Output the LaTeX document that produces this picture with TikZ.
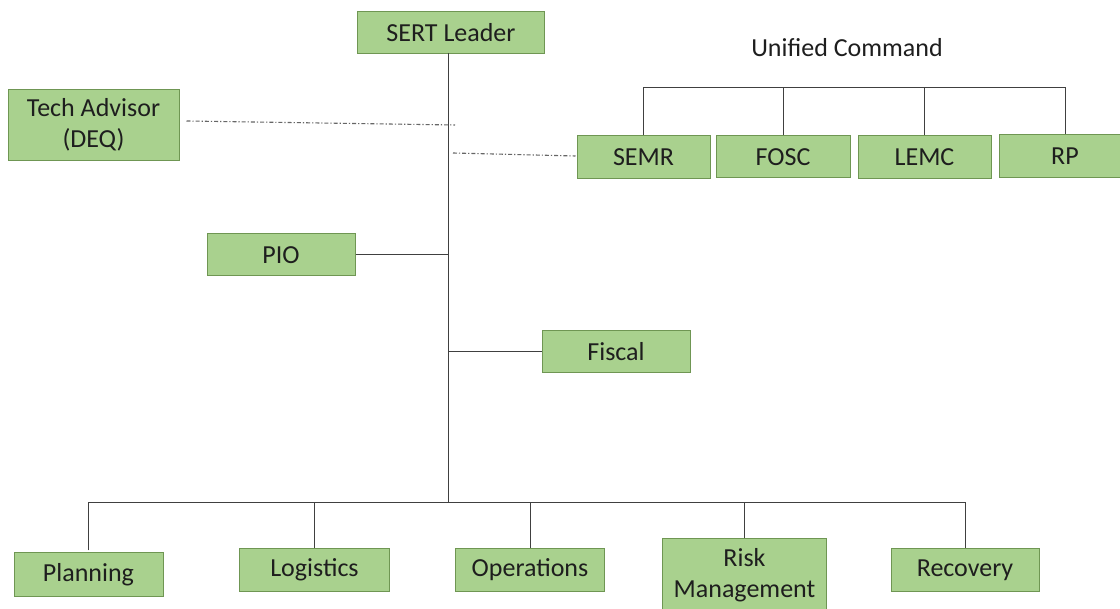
\documentclass[tikz,border=0pt]{standalone}
\usepackage{fontspec}
\setmainfont{Carlito}
\definecolor{boxfill}{HTML}{A9D18E}
\definecolor{boxline}{HTML}{6F9653}
\definecolor{linegray}{HTML}{404040}
\definecolor{txt}{HTML}{1E1E1E}
\tikzset{
  orgbox/.style={draw=boxline, line width=1pt, fill=boxfill, text=txt,
    inner sep=0pt, align=center, font=\fontsize{26}{31}\selectfont},
  conn/.style={draw=linegray, line width=1pt},
  dotconn/.style={draw=linegray!80, line width=1.1pt, dash pattern=on 4pt off 2pt on 1.2pt off 2pt}
}
\begin{document}
\begin{tikzpicture}[x=1pt,y=-1pt]
\useasboundingbox (0,0) rectangle (1120,609);
\fill[white] (0,0) rectangle (1120,609);
% nodes
\node[orgbox, minimum width=187pt, minimum height=42pt] (sert) at (451,32.5) {SERT Leader};
\node[orgbox, minimum width=171pt, minimum height=71pt] (tech) at (93.5,125) {Tech Advisor\\(DEQ)};
\node[text=txt, font=\fontsize{26}{31}\selectfont] (uc) at (847,48) {Unified Command};
\node[orgbox, minimum width=133pt, minimum height=43pt] (semr) at (643.5,157.5) {SEMR};
\node[orgbox, minimum width=134pt, minimum height=42pt] (fosc) at (783,157) {FOSC};
\node[orgbox, minimum width=133pt, minimum height=43pt] (lemc) at (924.5,157.5) {LEMC};
\node[orgbox, minimum width=132pt, minimum height=43pt] (rp) at (1065,156.5) {RP};
\node[orgbox, minimum width=148pt, minimum height=42pt] (pio) at (281,255) {PIO};
\node[orgbox, minimum width=148pt, minimum height=42pt] (fiscal) at (616,352) {Fiscal};
\node[orgbox, minimum width=149pt, minimum height=43pt] (planning) at (88.5,574.5) {Planning};
\node[orgbox, minimum width=150pt, minimum height=43pt] (logistics) at (314.5,570) {Logistics};
\node[orgbox, minimum width=149pt, minimum height=43pt] (operations) at (530,570) {Operations};
\node[orgbox, minimum width=164pt, minimum height=72pt] (risk) at (744.5,575) {Risk\\Management};
\node[orgbox, minimum width=148pt, minimum height=43pt] (recovery) at (965,570) {Recovery};
% coordinates
\coordinate (spinetop) at (448,53);
\coordinate (spinebot) at (448,503);
\coordinate (bar) at (448,503);
\coordinate (ucbar) at (641,88);
\coordinate (techend) at (455,125);
\coordinate (semrdash) at (453,153);
% spine
\draw[conn] (spinetop) -- (spinebot);
\draw[conn] (pio.east) -- (pio.east -| spinetop);
\draw[conn] (fiscal.west) -- (fiscal.west -| spinetop);
% bottom bar
\draw[conn] (planning.north -| planning.center) ++(0,-2) coordinate (pl) -- (pl |- bar) -- (recovery.north |- bar) -- (recovery.north);
\draw[conn] (logistics.north) -- (logistics.north |- bar);
\draw[conn] (operations.north) -- (operations.north |- bar);
\draw[conn] (risk.north) -- (risk.north |- bar);
% unified command bar
\draw[conn] (semr.north) -- (semr.north |- ucbar) -- (rp.north |- ucbar) -- (rp.north);
\draw[conn] (fosc.north) -- (fosc.north |- ucbar);
\draw[conn] (lemc.north) -- (lemc.north |- ucbar);
% dash-dot links
\draw[dotconn] ([shift={(7,-4)}]tech.east) -- (techend);
\draw[dotconn] (semrdash) -- ([shift={(-1,-1.5)}]semr.west);
\end{tikzpicture}
\end{document}
